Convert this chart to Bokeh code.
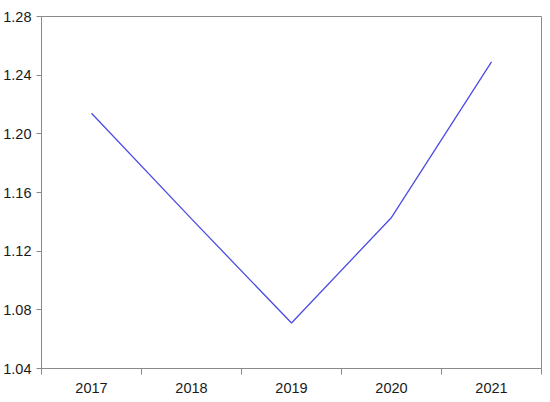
from bokeh.plotting import figure
from bokeh.models import FixedTicker, Range1d, NumeralTickFormatter
from bokeh.embed import file_html
from bokeh.resources import INLINE

years = ["2017", "2018", "2019", "2020", "2021"]
values = [1.214, 1.142, 1.071, 1.143, 1.249]
y_ticks = [1.04, 1.08, 1.12, 1.16, 1.20, 1.24, 1.28]

xs = list(range(len(years)))

p = figure(width=547, height=398, output_backend="svg", toolbar_location=None,
           x_range=Range1d(-0.5, len(years) - 0.5), y_range=Range1d(1.04, 1.28),
           min_border_left=41, min_border_right=6, min_border_top=16, min_border_bottom=30)

p.line(xs, values, line_color="#4b4be6", line_width=1.3)

p.xgrid.visible = False
p.ygrid.visible = False
p.outline_line_color = "#8a8a8a"
p.outline_line_width = 1

p.xaxis.ticker = FixedTicker(ticks=xs, minor_ticks=[i - 0.5 for i in range(len(years) + 1)])
p.xaxis.major_label_overrides = {i: y for i, y in enumerate(years)}
p.xaxis.major_tick_out = 0
p.xaxis.major_tick_in = 0
p.xaxis.minor_tick_out = 6
p.xaxis.minor_tick_in = 0
p.xaxis.minor_tick_line_color = "#8a8a8a"
p.xaxis.major_label_standoff = 8

p.yaxis.ticker = FixedTicker(ticks=y_ticks, minor_ticks=[])
p.yaxis.formatter = NumeralTickFormatter(format="0.00")
p.yaxis.major_tick_out = 5
p.yaxis.major_tick_in = 0
p.yaxis.major_label_standoff = 5
p.yaxis.major_tick_line_color = "#8a8a8a"

for ax in (p.xaxis, p.yaxis):
    ax.axis_line_color = "#8a8a8a"
    ax.major_label_text_font = "Liberation Sans"
    ax.major_label_text_font_size = "14.5px"
    ax.major_label_text_color = "#1a1a1a"

open("out.html", "w").write(file_html(p, INLINE))
